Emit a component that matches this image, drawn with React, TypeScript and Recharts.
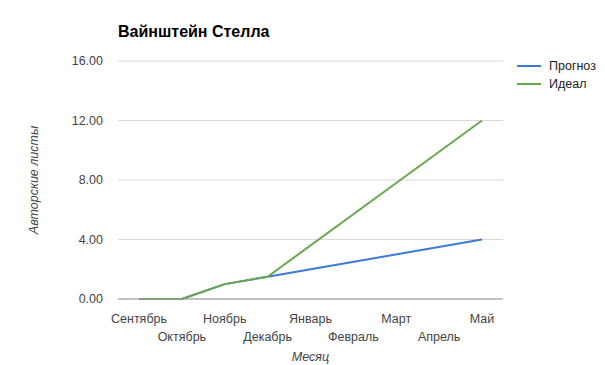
import React from "react";
import { LineChart, Line, XAxis, YAxis, CartesianGrid } from "recharts";

const months = ["Сентябрь", "Октябрь", "Ноябрь", "Декабрь", "Январь", "Февраль", "Март", "Апрель", "Май"];
// Google Sheets left the middle months empty and drew straight lines across them
const forecast = [0, 0, 1, 1.5, null, null, null, null, 4];
const ideal = [0, 0, 1, 1.5, null, null, null, null, 12];
const yTicks = [0, 4, 8, 12, 16];

const data = months.map((m, i) => ({ month: m, forecast: forecast[i], ideal: ideal[i] }));

const FONT = "'Liberation Sans', Arial, sans-serif";

function MonthTick(props: any) {
  const { x, y, payload, index } = props;
  const dy = index % 2 === 0 ? 16 : 34;
  return (
    <text x={x} y={y + dy} textAnchor="middle" fontSize={12.5} fill="#444" fontFamily={FONT}>
      {payload.value}
    </text>
  );
}

function LegendBox() {
  const items = [
    { name: "Прогноз", color: "#3c78d8" },
    { name: "Идеал", color: "#6aa84f" },
  ];
  return (
    <div style={{ position: "absolute", left: 517, top: 57, fontFamily: FONT, fontSize: 12.5, color: "#222" }}>
      {items.map((it) => (
        <div key={it.name} style={{ display: "flex", alignItems: "center", height: 18 }}>
          <svg width={32} height={4}>
            <line x1={0} y1={2} x2={24} y2={2} stroke={it.color} strokeWidth={2} />
          </svg>
          {it.name}
        </div>
      ))}
    </div>
  );
}

export default function App() {
  return (
    <div style={{ position: "absolute", left: 0, top: 0, width: 605, height: 365, background: "#fff" }}>
      <div
        style={{
          position: "absolute", left: 118, top: 23, fontFamily: FONT,
          fontSize: 16, fontWeight: "bold", color: "#000",
        }}
      >
        Вайнштейн Стелла
      </div>
      <LegendBox />
      <LineChart
        width={605}
        height={365}
        data={data}
        margin={{ top: 61, right: 102, bottom: 0, left: 18 }}
      >
        <CartesianGrid vertical={false} stroke="#d9d9d9" />
        <XAxis
          dataKey="month"
          interval={0}
          tick={<MonthTick />}
          tickLine={false}
          axisLine={{ stroke: "#999", strokeWidth: 1 }}
          height={66}
          padding={{ left: 21, right: 21 }}
          label={{
            value: "Месяц", position: "insideBottom", offset: 4,
            style: { fontFamily: FONT, fontSize: 12.5, fontStyle: "italic", fill: "#444" },
          }}
        />
        <YAxis
          domain={[0, 16]}
          ticks={yTicks}
          tickFormatter={(v: number) => v.toFixed(2)}
          tick={{ fontSize: 12.5, fill: "#444", fontFamily: FONT }}
          tickLine={false}
          axisLine={false}
          tickSize={0}
          tickMargin={15}
          width={100}
          label={{
            value: "Авторские листы", angle: -90, position: "insideLeft", offset: 16,
            style: { fontFamily: FONT, fontSize: 12.5, fontStyle: "italic", fill: "#444", textAnchor: "middle" },
          }}
        />
        <Line
          type="linear"
          dataKey="forecast"
          name="Прогноз"
          stroke="#3c78d8"
          strokeWidth={2}
          dot={false}
          connectNulls
          isAnimationActive={false}
        />
        <Line
          type="linear"
          dataKey="ideal"
          name="Идеал"
          stroke="#6aa84f"
          strokeWidth={2}
          dot={false}
          connectNulls
          isAnimationActive={false}
        />
      </LineChart>
    </div>
  );
}
